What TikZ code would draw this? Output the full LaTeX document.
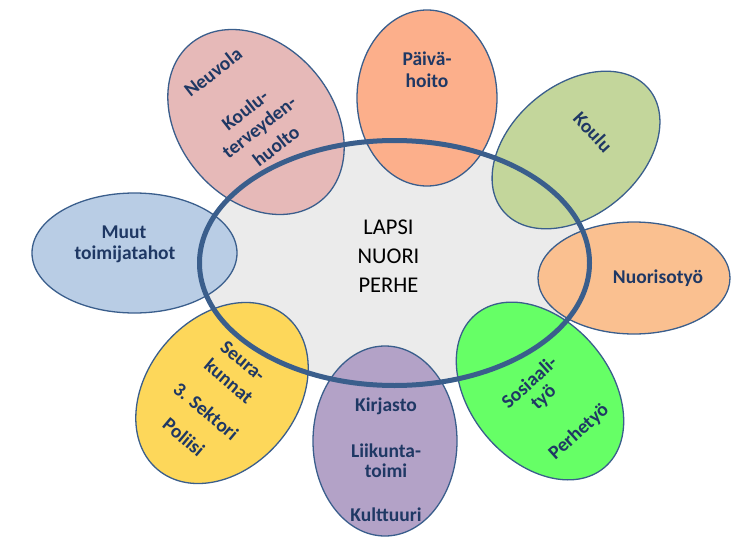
\documentclass[tikz,border=0pt]{standalone}
\usepackage{fontspec}
\setmainfont{Carlito}
\usetikzlibrary{shapes.geometric}
\definecolor{ringblue}{HTML}{3A5E8C}
\definecolor{txtblue}{HTML}{1F3864}
\definecolor{hubgray}{HTML}{EBEBEB}
\definecolor{cneuvola}{HTML}{E6B9B8}
\definecolor{cpaiva}{HTML}{FCAF8B}
\definecolor{ckoulu}{HTML}{C3D69B}
\definecolor{cnuoriso}{HTML}{FAC090}
\definecolor{csosiaali}{HTML}{66FF66}
\definecolor{ckirjasto}{HTML}{B3A2C7}
\definecolor{cseura}{HTML}{FDD75A}
\definecolor{cmuut}{HTML}{B9CDE5}
\begin{document}
\begin{tikzpicture}[x=1pt,y=1pt,
  petal/.style={ellipse, draw=ringblue, line width=1.3pt, inner sep=0pt},
  lbl/.style={text=txtblue, font=\bfseries\fontsize{19.5}{22.5}\selectfont, align=center, inner sep=0pt},
  hubtext/.style={text=black, font=\fontsize{22.5}{29}\selectfont, align=center, inner sep=0pt}
]
\useasboundingbox (0,0) rectangle (731,-538);
\node[ellipse, fill=hubgray, minimum width=390pt, minimum height=245pt, inner sep=0pt] (hub) at (394.5,-263) {};
% petals
\node[petal, fill=cmuut, minimum width=205pt, minimum height=120pt] (muut) at (134.5,-253) {};
\node[petal, fill=cneuvola, minimum width=204pt, minimum height=154pt, rotate=-50] (neuvola) at (256,-122) {};
\node[petal, fill=cpaiva, minimum width=140pt, minimum height=176pt] (paiva) at (427,-98) {};
\node[petal, fill=ckoulu, minimum width=190pt, minimum height=130pt, rotate=40] (koulu) at (576,-150) {};
\node[petal, fill=cnuoriso, minimum width=192pt, minimum height=112pt] (nuoriso) at (634,-278) {};
\node[petal, fill=csosiaali, minimum width=200pt, minimum height=140pt, rotate=-50] (sosiaali) at (540,-391) {};
\node[petal, fill=ckirjasto, minimum width=144pt, minimum height=190pt] (kirjasto) at (385,-441) {};
\node[petal, fill=cseura, minimum width=200pt, minimum height=150pt, rotate=50] (seura) at (222,-393) {};
% ring
\node[ellipse, draw=ringblue, line width=5pt, minimum width=390pt, minimum height=245pt, inner sep=0pt] (ring) at (394.5,-263) {};
% labels
\node[hubtext] (thub) at (388.5,-256) {LAPSI\\NUORI\\PERHE};
\node[lbl, rotate=38] (tneuvola) at (213,-72) {Neuvola};
\node[lbl, rotate=38] (tkoulu1) at (245,-110) {Koulu-};
\node[lbl, rotate=38] (tkoulu2) at (260,-128) {terveyden-};
\node[lbl, rotate=38] (tkoulu3) at (276,-146) {huolto};
\node[lbl] (tpaiva1) at (427,-59) {Päivä-};
\node[lbl] (tpaiva2) at (427,-81) {hoito};
\node[lbl, rotate=-47] (tkoulu) at (593,-132) {Koulu};
\node[lbl] (tnuoriso) at (658,-278) {Nuorisotyö};
\node[lbl, rotate=42] (tsos1) at (529,-382) {Sosiaali-};
\node[lbl, rotate=42] (tsos2) at (544,-398) {työ};
\node[lbl, rotate=42] (tperhe) at (579,-432) {Perhetyö};
\node[lbl] (tkirj) at (386,-406) {Kirjasto};
\node[lbl] (tliik1) at (386,-451) {Liikunta-};
\node[lbl] (tliik2) at (386,-471) {toimi};
\node[lbl] (tkult) at (386,-515) {Kulttuuri};
\node[lbl, rotate=-40] (tseura) at (243,-361) {Seura-};
\node[lbl, rotate=-40] (tkunnat) at (229,-381) {kunnat};
\node[lbl, rotate=-40] (tsektori) at (206,-411) {3. Sektori};
\node[lbl, rotate=-40] (tpoliisi) at (184,-437) {Poliisi};
\node[lbl] (tmuut1) at (124,-232) {Muut};
\node[lbl] (tmuut2) at (125,-254) {toimijatahot};
\end{tikzpicture}
\end{document}
